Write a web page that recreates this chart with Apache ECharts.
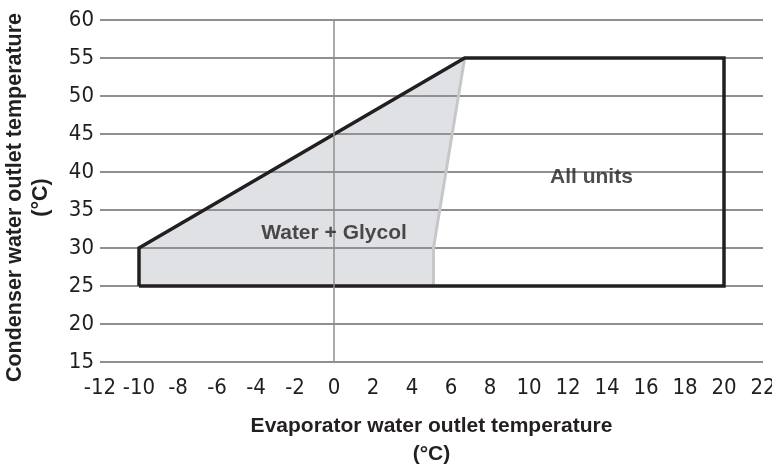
<!DOCTYPE html>
<html>
<head>
<meta charset="utf-8">
<script src="https://cdn.jsdelivr.net/npm/echarts@6/dist/echarts.min.js"></script>
<style>
  html, body { margin: 0; padding: 0; background: #fff; }
  #chart { width: 772px; height: 466px; }
</style>
</head>
<body>
<div id="chart"></div>
<script>
// operating envelope
const envelopeX = [-10, -10, 6.7, 20, 20, -10];
const envelopeY = [25, 30, 55, 55, 25, 25];
const glycolX = [-10, -10, 6.7, 5.1, 5.1];
const glycolY = [25, 30, 55, 30, 25];
const glycolEdgeX = [6.7, 5.1, 5.1];
const glycolEdgeY = [55, 30, 25];
const areaNames = ['Water + Glycol', 'All units'];
const areaNameX = [0, 13.2];
const areaNameY = [32, 39.3];

const xMin = -12, xMax = 22, xStep = 2;
const yMin = 15, yMax = 60, yStep = 5;

const tickFont = "'Liberation Sans Narrow', 'DejaVu Sans Condensed', sans-serif";
const boldFont = "'Liberation Sans', Arial, sans-serif";
const gridGray = '#8f8f8f';
const ink = '#231f20';

const pairs = (xs, ys) => xs.map((x, i) => [x, ys[i]]);

const chart = echarts.init(document.getElementById('chart'));

const option = {
  animation: false,
  backgroundColor: '#fff',
  grid: { left: 100, right: 9, top: 20, bottom: 104, containLabel: false, outerBoundsMode: 'none' },
  xAxis: {
    type: 'value',
    min: xMin, max: xMax, interval: xStep,
    name: 'Evaporator water outlet temperature\n(°C)',
    nameLocation: 'middle',
    nameGap: 50,
    nameTextStyle: { fontFamily: boldFont, fontSize: 21, fontWeight: 'bold', color: ink, lineHeight: 28 },
    axisLine: { show: false },
    axisTick: { show: false },
    splitLine: { show: false },
    axisLabel: { fontFamily: tickFont, fontSize: 22, color: '#1f1f1f', margin: 15 }
  },
  yAxis: {
    type: 'value',
    min: yMin, max: yMax, interval: yStep,
    name: 'Condenser water outlet temperature\n(°C)',
    nameLocation: 'middle',
    nameGap: 46,
    nameTextStyle: {
      fontFamily: boldFont, fontSize: 21.5, fontWeight: 'bold', color: ink, lineHeight: 26,
      padding: [0, 13, 0, 0]
    },
    axisLine: { show: false },
    axisTick: { show: false },
    splitLine: { show: true, lineStyle: { color: gridGray, width: 2 } },
    axisLabel: { fontFamily: tickFont, fontSize: 22, color: '#1f1f1f', margin: 6 }
  },
  series: [
    {
      // Water + Glycol shaded area
      type: 'custom',
      z: 1,
      data: pairs(glycolX, glycolY),
      renderItem: (params, api) => {
        if (params.dataIndex !== 0) return;
        const points = glycolX.map((x, i) => api.coord([x, glycolY[i]]));
        return {
          type: 'polygon',
          shape: { points },
          style: { fill: 'rgba(150, 155, 165, 0.3)' }
        };
      },
      markLine: {
        silent: true,
        symbol: 'none',
        label: { show: false },
        lineStyle: { color: gridGray, width: 1.5, type: 'solid' },
        data: [{ xAxis: 0 }]
      }
    },
    {
      type: 'line',
      z: 3,
      data: pairs(glycolEdgeX, glycolEdgeY),
      showSymbol: false,
      symbol: 'none',
      lineStyle: { color: '#c6c7c9', width: 3 }
    },
    {
      type: 'line',
      z: 4,
      data: pairs(envelopeX, envelopeY),
      showSymbol: false,
      symbol: 'none',
      lineStyle: { color: ink, width: 3.5, join: 'miter' }
    },
    {
      type: 'scatter',
      z: 5,
      symbolSize: 0,
      data: areaNames.map((n, i) => ({ name: n, value: [areaNameX[i], areaNameY[i]] })),
      label: {
        show: true,
        position: 'inside',
        formatter: '{b}',
        fontFamily: boldFont,
        fontSize: 21,
        fontWeight: 'bold',
        color: ink
      }
    }
  ]
};

chart.setOption(option);
</script>
</body>
</html>
